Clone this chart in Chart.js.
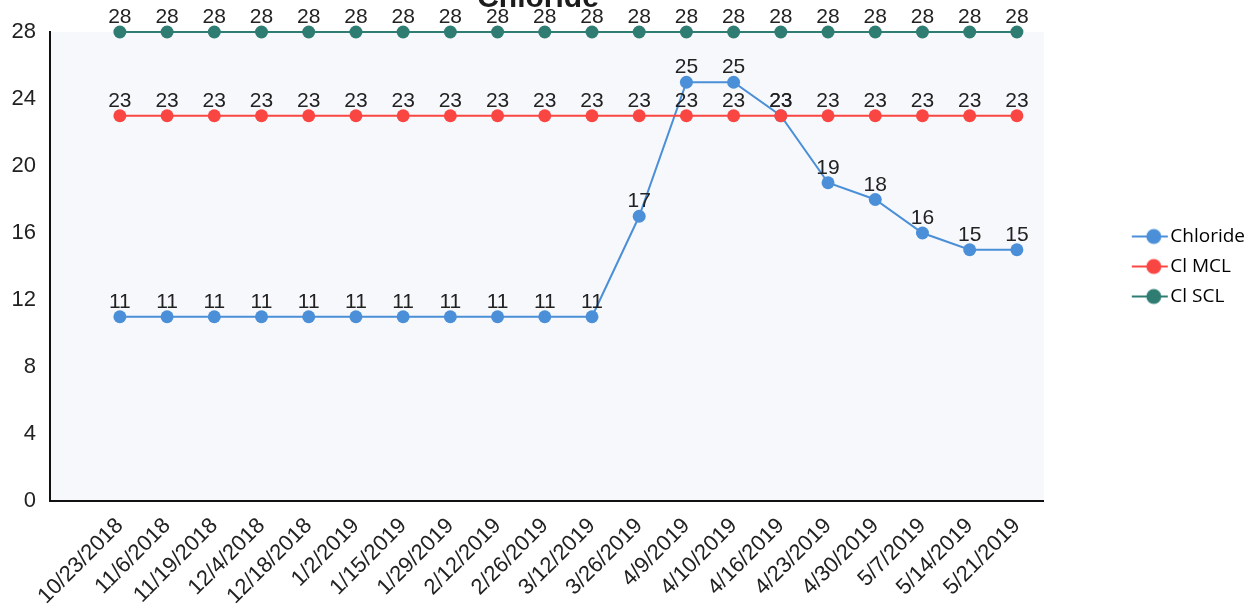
<!DOCTYPE html>
<html>
<head>
<meta charset="utf-8">
<title>Chloride</title>
<script src="https://cdn.jsdelivr.net/npm/chart.js@4.4.1/dist/chart.umd.min.js"></script>
<style>
  html, body { margin: 0; padding: 0; background: #ffffff; }
  #wrap { width: 1255px; height: 613px; position: relative; }
</style>
</head>
<body>
<div id="wrap"><canvas id="chart"></canvas></div>
<script>
// Sampling dates (x categories)
const sampleDates = [
  '10/23/2018', '11/6/2018', '11/19/2018', '12/4/2018', '12/18/2018',
  '1/2/2019', '1/15/2019', '1/29/2019', '2/12/2019', '2/26/2019',
  '3/12/2019', '3/26/2019', '4/9/2019', '4/10/2019', '4/16/2019',
  '4/23/2019', '4/30/2019', '5/7/2019', '5/14/2019', '5/21/2019'
];

// Measured chloride (mg/L)
const chlorideValues = [11, 11, 11, 11, 11, 11, 11, 11, 11, 11, 11, 17, 25, 25, 23, 19, 18, 16, 15, 15];

// Maximum contaminant level
const clMclValues = [23, 23, 23, 23, 23, 23, 23, 23, 23, 23, 23, 23, 23, 23, 23, 23, 23, 23, 23, 23];

// Secondary contaminant level
const clSclValues = [28, 28, 28, 28, 28, 28, 28, 28, 28, 28, 28, 28, 28, 28, 28, 28, 28, 28, 28, 28];

// Y axis tick labels
const yTickValues = [0, 4, 8, 12, 16, 20, 24, 28];

const FONT = "'Liberation Sans', Arial, sans-serif";
const TEXT_COLOR = '#222222';
const COLORS = {
  chloride: '#4a8fd8',
  mcl: '#fa4642',
  scl: '#2f7d72'
};

const toPoints = values => values.map((v, i) => ({ x: i, y: v }));

// Legend marker: a short line with a dot on it
function legendIcon(color) {
  const c = document.createElement('canvas');
  c.width = 50;
  c.height = 18;
  const g = c.getContext('2d');
  g.strokeStyle = color;
  g.lineWidth = 2;
  g.beginPath();
  g.moveTo(11, 9);
  g.lineTo(47, 9);
  g.stroke();
  g.fillStyle = color;
  g.beginPath();
  g.arc(33, 9, 7.5, 0, Math.PI * 2);
  g.fill();
  return c;
}

function lineDataset(label, values, color, order) {
  return {
    label,
    data: toPoints(values),
    borderColor: color,
    backgroundColor: color,
    borderWidth: 2,
    pointRadius: 6.5,
    pointHoverRadius: 6.5,
    pointBorderWidth: 0,
    pointBackgroundColor: color,
    tension: 0,
    clip: false,
    order
  };
}

// Light tint behind the plot area
const plotBackground = {
  id: 'plotBackground',
  beforeDraw(chart) {
    const { ctx, chartArea: a } = chart;
    ctx.save();
    ctx.fillStyle = '#f7f8fb';
    ctx.fillRect(a.left, a.top, a.right - a.left, a.bottom - a.top);
    ctx.restore();
  }
};

// Value labels above each point
const valueLabels = {
  id: 'valueLabels',
  afterDatasetsDraw(chart) {
    const ctx = chart.ctx;
    ctx.save();
    ctx.font = '21px ' + FONT;
    ctx.fillStyle = TEXT_COLOR;
    ctx.textAlign = 'center';
    ctx.textBaseline = 'alphabetic';
    chart.data.datasets.forEach((ds, i) => {
      const meta = chart.getDatasetMeta(i);
      meta.data.forEach((pt, j) => {
        ctx.fillText(String(ds.data[j].y), pt.x, pt.y - 9);
      });
    });
    ctx.restore();
  }
};

// Chart heading
const heading = {
  id: 'heading',
  afterDraw(chart) {
    const ctx = chart.ctx;
    ctx.save();
    ctx.font = 'bold 30px ' + FONT;
    ctx.fillStyle = '#1c1c1c';
    ctx.textAlign = 'center';
    ctx.textBaseline = 'alphabetic';
    ctx.fillText('Chloride', 538, 7);
    ctx.restore();
  }
};

new Chart(document.getElementById('chart'), {
  type: 'line',
  data: {
    datasets: [
      lineDataset('Chloride', chlorideValues, COLORS.chloride, 3),
      lineDataset('Cl MCL', clMclValues, COLORS.mcl, 2),
      lineDataset('Cl SCL', clSclValues, COLORS.scl, 1)
    ]
  },
  options: {
    responsive: true,
    maintainAspectRatio: false,
    animation: false,
    events: [],
    layout: { padding: { top: 32, right: 0, bottom: 0, left: 0 } },
    scales: {
      x: {
        type: 'linear',
        min: -1.48,
        max: 19.57,
        afterBuildTicks(scale) {
          scale.ticks = sampleDates.map((_, i) => ({ value: i }));
        },
        afterFit(scale) { scale.height = 112; },
        grid: { display: false, drawTicks: false },
        border: { display: true, color: '#111111', width: 2 },
        ticks: {
          autoSkip: false,
          minRotation: 45,
          maxRotation: 45,
          padding: 12,
          color: TEXT_COLOR,
          font: { family: FONT, size: 22 },
          callback: (value, index) => sampleDates[index]
        }
      },
      y: {
        type: 'linear',
        position: 'left',
        min: 0,
        max: 28,
        afterBuildTicks(scale) {
          scale.ticks = yTickValues.map(v => ({ value: v }));
        },
        afterFit(scale) { scale.width = 50; },
        grid: { display: false, drawTicks: false },
        border: { display: true, color: '#111111', width: 2 },
        ticks: {
          padding: 14,
          color: TEXT_COLOR,
          font: { family: FONT, size: 22 }
        }
      },
      gap: {
        type: 'linear',
        position: 'right',
        display: true,
        afterFit(scale) { scale.width = 76; },
        grid: { display: false, drawTicks: false },
        border: { display: false },
        ticks: { display: false }
      }
    },
    plugins: {
      title: { display: false },
      tooltip: { enabled: false },
      legend: {
        position: 'right',
        fullSize: false,
        labels: {
          usePointStyle: true,
          pointStyleWidth: 30,
          padding: 11,
          color: '#333333',
          font: { family: "'Open Sans', " + FONT, size: 19 },
          generateLabels(chart) {
            return chart.data.datasets.map((ds, i) => ({
              text: ds.label,
              pointStyle: legendIcon(ds.borderColor),
              fillStyle: ds.borderColor,
              strokeStyle: ds.borderColor,
              lineWidth: 0,
              hidden: false,
              datasetIndex: i
            }));
          }
        }
      }
    }
  },
  plugins: [plotBackground, valueLabels, heading]
});
</script>
</body>
</html>
